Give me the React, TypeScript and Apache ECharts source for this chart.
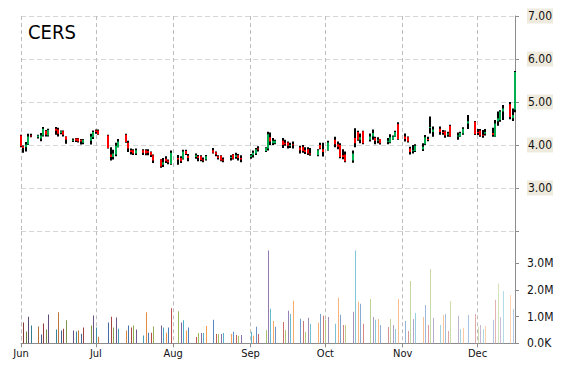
import React, { useEffect, useRef } from 'react';
import * as echarts from 'echarts';

// ---------- data ----------
const TICKER = 'CERS';
const YEAR = 2014;
// trading days per month (month index: 5 = June ... 11 = December)
const junDays = [2, 3, 4, 5, 6, 9, 10, 11, 12, 13, 16, 17, 18, 19, 20, 23, 24, 25, 26, 27, 30];
const julDays = [1, 2, 3, 7, 8, 9, 10, 11, 14, 15, 16, 17, 18, 21, 22, 23, 24, 25, 28, 29, 30, 31];
const augDays = [1, 4, 5, 6, 7, 8, 11, 12, 13, 14, 15, 18, 19, 20, 21, 22, 25, 26, 27, 28, 29];
const sepDays = [2, 3, 4, 5, 8, 9, 10, 11, 12, 15, 16, 17, 18, 19, 22, 23, 24, 25, 26, 29, 30];
const octDays = [1, 2, 3, 6, 7, 8, 9, 10, 13, 14, 15, 16, 17, 20, 21, 22, 23, 24, 27, 28, 29, 30, 31];
const novDays = [3, 4, 5, 6, 7, 10, 11, 12, 13, 14, 17, 18, 19, 20, 21, 24, 25, 26, 28];
const decDays = [1, 2, 3, 4, 5, 8, 9, 10, 11, 12, 15, 16, 17];
const monthDays: [number, number[]][] = [
  [5, junDays], [6, julDays], [7, augDays], [8, sepDays], [9, octDays], [10, novDays], [11, decDays],
];
// the source plots every session one calendar day before its trading date
const PLOT_SHIFT_DAYS = 1;

const opens = [
  4.22, 3.97, 3.95, 4.01, 4.22, 4.18, 4.15, 4.22, 4.33, 4.22, 4.38, 4.36, 4.28, 4.32, 4.20, 4.10, 4.15, 4.15, 4.12, 4.05, 4.10,
  4.18, 4.34, 4.34, 4.22, 3.78, 3.72, 3.78, 3.95, 4.24, 4.05, 3.88, 3.88, 3.80, 3.88, 3.88, 3.86, 3.84, 3.76, 3.66, 3.54, 3.68, 3.64,
  3.56, 3.70, 3.70, 3.68, 3.86, 3.75, 3.72, 3.74, 3.74, 3.66, 3.66, 3.88, 3.83, 3.74, 3.75, 3.66, 3.70, 3.78, 3.72, 3.76, 3.70,
  3.72, 3.76, 3.80, 3.92, 3.86, 3.92, 4.18, 4.04, 4.04, 4.10, 4.05, 4.06, 3.98, 4.02, 3.94, 3.96, 3.88, 3.90, 3.80, 3.76, 4.00,
  3.90, null, 3.88, 4.12, 4.02, 4.00, 3.76, 3.78, 3.64, 4.16, 4.30, 4.12, 4.32, 4.12, 4.20, 4.16, 4.10, 4.14, 4.08, 4.06, 4.13, 4.20, 4.48,
  4.20, 4.18, 3.92, 3.86, 3.86, 3.90, 4.02, 4.14, 4.40, 4.30, 4.38, 4.30, 4.32, 4.24, 4.45, 4.20, 4.20, 4.27, 4.50,
  4.54, 4.30, 4.34, 4.24, 4.26, 4.28, 4.20, 4.55, 4.58, 4.78, 4.95, 4.62, 4.82,
];
const highs = [
  4.24, 3.99, 4.07, 4.26, 4.26, 4.24, 4.28, 4.42, 4.35, 4.38, 4.42, 4.40, 4.34, 4.34, 4.20, 4.15, 4.16, 4.16, 4.14, 4.14, 4.26,
  4.34, 4.36, 4.36, 4.24, 3.95, 3.89, 4.05, 4.14, 4.26, 4.10, 3.92, 3.90, 3.92, 3.90, 3.90, 3.90, 3.85, 3.78, 3.67, 3.70, 3.74, 3.66,
  3.87, 3.77, 3.74, 3.89, 3.89, 3.79, 3.80, 3.77, 3.76, 3.71, 3.77, 3.93, 3.85, 3.76, 3.76, 3.71, 3.76, 3.79, 3.82, 3.79, 3.76,
  3.79, 3.87, 3.93, 3.97, 3.95, 4.31, 4.29, 4.16, 4.12, 4.16, 4.12, 4.08, 4.05, 4.08, 3.98, 4.00, 3.95, 3.95, 3.93, 3.90, 4.05,
  4.05, null, 4.10, 4.19, 4.08, 4.04, 3.90, 3.85, 3.87, 4.39, 4.33, 4.27, 4.33, 4.27, 4.36, 4.19, 4.18, 4.14, 4.16, 4.25, 4.22, 4.33, 4.53,
  4.27, 4.20, 3.96, 4.00, 4.02, 4.04, 4.23, 4.19, 4.66, 4.43, 4.43, 4.35, 4.34, 4.31, 4.47, 4.29, 4.31, 4.41, 4.70,
  4.56, 4.37, 4.37, 4.35, 4.37, 4.40, 4.58, 4.78, 4.81, 4.93, 5.00, 4.85, 5.72,
];
const lows = [
  3.95, 3.82, 3.85, 4.00, 4.18, 4.15, 4.09, 4.20, 4.20, 4.20, 4.24, 4.20, 4.25, 4.20, 4.03, 4.07, 4.07, 4.06, 4.01, 4.02, 4.01,
  4.14, 4.26, 4.24, 3.92, 3.64, 3.66, 3.74, 3.95, 4.05, 3.84, 3.78, 3.77, 3.77, 3.77, 3.76, 3.76, 3.72, 3.58, 3.47, 3.49, 3.58, 3.55,
  3.54, 3.54, 3.58, 3.66, 3.77, 3.62, 3.68, 3.62, 3.62, 3.60, 3.64, 3.80, 3.74, 3.66, 3.62, 3.60, 3.64, 3.66, 3.68, 3.64, 3.60,
  3.68, 3.71, 3.77, 3.85, 3.84, 3.87, 4.00, 4.00, 4.02, 3.93, 3.98, 3.92, 3.93, 3.92, 3.80, 3.82, 3.79, 3.77, 3.75, 3.74, 3.90,
  3.73, null, 3.87, 3.95, 3.90, 3.69, 3.67, 3.60, 3.59, 3.95, 4.10, 4.04, 4.02, 4.08, 4.12, 4.02, 4.04, 4.01, 4.02, 4.04, 4.12, 4.19, 4.12,
  4.08, 4.06, 3.78, 3.80, 3.84, 3.86, 4.00, 4.09, 4.27, 4.19, 4.24, 4.24, 4.17, 4.19, 4.19, 4.12, 4.19, 4.24, 4.37,
  4.23, 4.23, 4.19, 4.17, 4.22, 4.19, 4.19, 4.45, 4.54, 4.58, 4.60, 4.56, 4.76,
];
const closes = [
  3.97, 3.93, 4.01, 4.20, 4.21, 4.22, 4.22, 4.38, 4.24, 4.35, 4.33, 4.26, 4.32, 4.24, 4.12, 4.12, 4.10, 4.08, 4.08, 4.12, 4.20,
  4.30, 4.30, 4.25, 3.93, 3.72, 3.80, 3.98, 4.08, 4.07, 3.92, 3.84, 3.80, 3.88, 3.82, 3.80, 3.82, 3.76, 3.64, 3.50, 3.60, 3.62, 3.60,
  3.82, 3.66, 3.62, 3.85, 3.79, 3.70, 3.76, 3.70, 3.65, 3.64, 3.74, 3.82, 3.78, 3.70, 3.64, 3.64, 3.72, 3.68, 3.76, 3.70, 3.66,
  3.76, 3.82, 3.90, 3.90, 3.93, 4.25, 4.08, 4.10, 4.10, 4.00, 4.02, 3.98, 4.00, 4.00, 3.88, 3.86, 3.84, 3.80, 3.78, 3.88, 3.92,
  3.84, null, 4.06, 4.02, 3.96, 3.72, 3.72, 3.62, 3.80, 4.04, 4.12, 4.18, 4.04, 4.20, 4.28, 4.10, 4.12, 4.04, 4.10, 4.18, 4.20, 4.30, 4.14,
  4.14, 4.08, 3.84, 3.88, 3.98, 3.96, 4.18, 4.12, 4.42, 4.36, 4.30, 4.28, 4.22, 4.27, 4.20, 4.22, 4.28, 4.38, 4.55,
  4.25, 4.28, 4.22, 4.22, 4.30, 4.24, 4.50, 4.62, 4.78, 4.85, 4.65, 4.70, 5.70,
];
// volume in millions of shares
const volumes = [
  null, 0.78, 0.44, 1.00, 0.67, 0.63, 0.33, 0.74, 0.52, 1.08, 0.52, 1.16, 0.48, 0.55, 0.86, 0.48, 0.44, 0.48, 0.36, 0.59, 0.67,
  1.04, 0.59, 0.25, 0.78, 1.00, 0.59, 0.97, 0.55, 0.48, 0.67, 0.59, 0.67, 0.52, 0.29, 1.16, 0.40, 0.40, 0.63, 0.67, 0.59, 0.40, 0.59,
  1.31, 1.20, 0.78, 0.86, 0.48, 0.59, 0.24, 0.39, 0.39, 0.39, 0.65, 0.88, 0.35, 0.35, 0.35, 0.39, 0.35, 0.43, 0.31, 0.28, 0.31,
  0.43, 0.28, 0.62, 0.35, 0.50, 3.48, 1.30, 0.84, 0.62, 0.80, 0.50, 1.22, 1.10, 1.60, 0.92, 0.84, 0.43, 0.96, 0.73, 0.77, 1.10,
  1.03, 0.88, 0.99, 0.73, 1.71, 1.07, 0.69, 0.69, 1.18, 3.48, 1.56, 1.48, 0.73, 1.66, 0.99, 0.88, 0.91, 0.69, 0.61, 0.91, 0.69, 0.54, 1.66,
  0.84, 0.46, 2.34, 0.91, 1.14, 0.99, 1.44, 0.69, 2.79, 0.95, 0.69, 1.06, 1.10, 0.46, 1.59, 1.03, 0.54, 0.58, 1.06,
  1.10, 0.61, 0.69, 0.54, 0.65, 0.88, 1.63, 2.24, 0.99, 1.96, 1.81, 1.29, null,
];

const priceTicks = [3, 4, 5, 6, 7];
const volumeTicks = [0, 1e6, 2e6, 3e6];
const monthNames = ['Jan', 'Feb', 'Mar', 'Apr', 'May', 'Jun', 'Jul', 'Aug', 'Sep', 'Oct', 'Nov', 'Dec'];

// ---------- style ----------
const FONT = '"DejaVu Sans Condensed", "DejaVu Sans", sans-serif';
const UP = '#00B050';
const DOWN = '#FF0000';
const WICK = '#000000';
const AXIS = '#8C8C8C';
const VOL_PALETTE = ['#4F81BD', '#C0504D', '#9BBB59', '#8064A2', '#4BACC6', '#F79646'];

function shade(hex: string, f: number): string {
  const n = parseInt(hex.slice(1), 16);
  const ch = [(n >> 16) & 255, (n >> 8) & 255, n & 255].map((c) =>
    Math.round(f < 0 ? c * (1 + f) : c + (255 - c) * f)
  );
  return '#' + ch.map((c) => c.toString(16).padStart(2, '0')).join('');
}

export default function App() {
  const ref = useRef<HTMLDivElement>(null);

  useEffect(() => {
    if (!ref.current) return;
    const chart = echarts.init(ref.current, undefined, { renderer: 'svg' });

    const times: number[] = [];
    monthDays.forEach(([m, days]) => {
      days.forEach((d) => times.push(new Date(YEAR, m, d - PLOT_SHIFT_DAYS).getTime()));
    });
    const n = times.length;

    const candles: number[][] = [];
    times.forEach((t, i) => {
      if (opens[i] == null) return;
      candles.push([t, opens[i] as number, highs[i] as number, lows[i] as number, closes[i] as number]);
    });

    const volData: number[][] = [];
    const volColors: string[] = [];
    times.forEach((t, i) => {
      if (volumes[i] == null) return;
      const f = -0.3 + 0.9 * (i / (n - 1));
      volData.push([t, (volumes[i] as number) * 1e6]);
      volColors.push(shade(VOL_PALETTE[i % VOL_PALETTE.length], f));
    });

    const xMin = new Date(YEAR, 5, 1).getTime();
    const xMax = new Date(YEAR, 11, 16).getTime();
    const vSplit = { show: true, lineStyle: { color: '#BDBDBD', type: [4, 3] as any, width: 1 } };

    chart.setOption({
      animation: false,
      backgroundColor: '#FFFFFF',
      title: {
        text: TICKER,
        left: 28,
        top: 22,
        padding: 0,
        textStyle: { fontFamily: FONT, fontSize: 20, fontWeight: 'normal', color: '#000' },
      },
      grid: [
        { left: 21, right: 55, top: 16, height: 215 },
        { left: 21, right: 55, top: 231.3, height: 112 },
      ],
      xAxis: [
        {
          type: 'time', gridIndex: 0, min: xMin, max: xMax,
          minInterval: 28 * 86400000, maxInterval: 31 * 86400000,
          axisLine: { show: false }, axisTick: { show: false }, axisLabel: { show: false },
          splitLine: vSplit,
        },
        {
          type: 'time', gridIndex: 1, min: xMin, max: xMax,
          minInterval: 28 * 86400000, maxInterval: 31 * 86400000,
          axisLine: { show: true, lineStyle: { color: AXIS } },
          axisTick: { show: true, length: 4, lineStyle: { color: AXIS } },
          axisLabel: {
            show: true, margin: 5, color: '#111', fontFamily: FONT, fontSize: 11,
            formatter: (v: number) => monthNames[new Date(v).getMonth()],
          },
          splitLine: vSplit,
        },
      ],
      yAxis: [
        {
          type: 'value', gridIndex: 0, position: 'right', min: 2, max: 7, interval: 1,
          axisLine: { show: true, lineStyle: { color: AXIS } },
          axisTick: { show: true, length: 4, lineStyle: { color: AXIS } },
          axisLabel: {
            customValues: priceTicks,
            margin: 12, color: '#111', fontFamily: FONT, fontSize: 12,
            backgroundColor: '#EEEBDE', padding: [3, 1, 0, 1], lineHeight: 12,
            formatter: (v: number) => v.toFixed(2),
          },
          splitLine: { show: true, lineStyle: { color: '#D6D6D6', type: [5, 3] as any } },
        },
        {
          type: 'value', gridIndex: 1, position: 'right', min: 0, max: 4.2e6, interval: 1e6,
          axisLine: { show: true, lineStyle: { color: AXIS } },
          axisTick: { show: true, length: 4, customValues: volumeTicks, lineStyle: { color: AXIS } },
          axisLabel: {
            customValues: volumeTicks,
            margin: 12, color: '#111', fontFamily: FONT, fontSize: 12,
            formatter: (v: number) => (v === 0 ? '0.0K' : (v / 1e6).toFixed(1) + 'M'),
          },
          splitLine: { show: false },
        },
      ],
      series: [
        {
          type: 'custom',
          xAxisIndex: 0, yAxisIndex: 0,
          data: candles,
          encode: { x: 0, y: [1, 2, 3, 4] },
          clip: false,
          renderItem: (_p: any, api: any) => {
            const t = api.value(0);
            const o = api.value(1), h = api.value(2), l = api.value(3), c = api.value(4);
            const pH = api.coord([t, h]);
            const pL = api.coord([t, l]);
            const pO = api.coord([t, o]);
            const pC = api.coord([t, c]);
            const x = Math.round(pH[0]) - 1;
            const top = Math.min(pO[1], pC[1]);
            const bh = Math.max(1, Math.abs(pO[1] - pC[1]));
            return {
              type: 'group',
              children: [
                { type: 'rect', shape: { x, y: pH[1], width: 2, height: Math.max(1, pL[1] - pH[1]) }, style: { fill: WICK } },
                { type: 'rect', shape: { x, y: top, width: 2, height: bh }, style: { fill: c >= o ? UP : DOWN } },
              ],
            };
          },
        },
        {
          type: 'custom',
          xAxisIndex: 1, yAxisIndex: 1,
          data: volData,
          encode: { x: 0, y: 1 },
          clip: false,
          renderItem: (params: any, api: any) => {
            const t = api.value(0);
            const v = api.value(1);
            const pTop = api.coord([t, v]);
            const pBase = api.coord([t, 0]);
            const x = Math.round(pTop[0]);
            return {
              type: 'rect',
              shape: { x, y: pTop[1], width: 1, height: pBase[1] - pTop[1] },
              style: { fill: volColors[params.dataIndex] },
            };
          },
        },
      ],
    });

    return () => chart.dispose();
  }, []);

  return (
    <div
      ref={ref}
      style={{ position: 'absolute', left: 0, top: 0, width: 570, height: 370, background: '#fff' }}
    />
  );
}
